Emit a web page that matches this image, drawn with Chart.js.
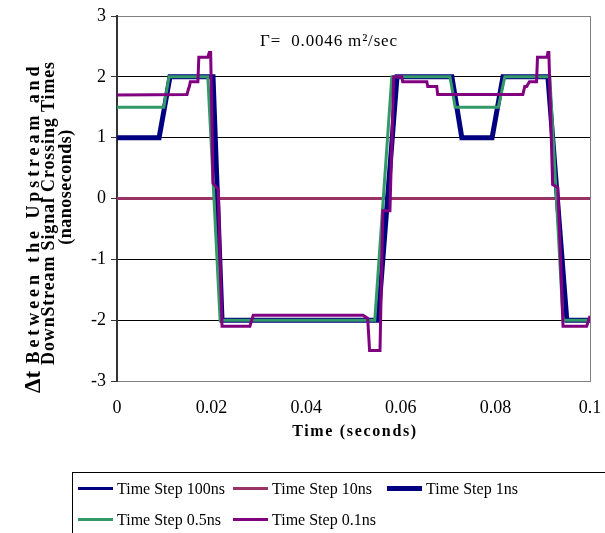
<!DOCTYPE html>
<html>
<head>
<meta charset="utf-8">
<script src="https://cdn.jsdelivr.net/npm/chart.js@4.4.0/dist/chart.umd.min.js"></script>
<style>
  body { margin: 0; overflow: hidden; background: #fff; }
  #wrap { position: relative; width: 605px; height: 533px; overflow: hidden; }
  #legend { position: absolute; left: 72px; top: 472px; width: 560px; height: 80px;
            border: 1px solid #000; box-sizing: border-box; font-family: 'Liberation Serif', serif; font-size: 16px; }
  .swatch { position: absolute; width: 35px; }
  .lbl { position: absolute; line-height: 18px; white-space: nowrap; }
</style>
</head>
<body>
<div id="wrap">
  <canvas id="chart" width="605" height="533"></canvas>
  <div id="legend"></div>
</div>
<script>
// series names, colours, widths
const names = ['Time Step 100ns', 'Time Step 10ns', 'Time Step 1ns', 'Time Step 0.5ns', 'Time Step 0.1ns'];
const colors = ['#000080', '#993366', '#000080', '#339966', '#800080'];
const widths = [3, 3, 5, 3, 3];

const xTickLabels = ['0', '0.02', '0.04', '0.06', '0.08', '0.1'];
const yTickLabels = ['-3', '-2', '-1', '0', '1', '2', '3'];

// time (s) and delta t (ns) for each series
const t100 = [0, 0.1];
const v100 = [0, 0];

const t10 = [0, 0.1];
const v10 = [0, 0];

const t1 = [0, 0.0089, 0.0112, 0.0203, 0.0222, 0.0552, 0.0592, 0.0708, 0.0729, 0.0793, 0.0816, 0.0911, 0.0951, 0.1];
const v1 = [1, 1, 2, 2, -2, -2, 2, 2, 1, 1, 2, 2, -2, -2];

const t05 = [0, 0.0099, 0.011, 0.0192, 0.0218, 0.0545, 0.0581, 0.0704, 0.0715, 0.0806, 0.082, 0.0915, 0.0943, 0.1];
const v05 = [1.5, 1.5, 2, 2, -2, -2, 2, 2, 1.5, 1.5, 2, 2, -2, -2];

const t01 = [0, 0.0148, 0.0151, 0.0153, 0.0155, 0.0171, 0.0173, 0.0192, 0.0195, 0.0198, 0.0203, 0.0214, 0.0222,
  0.0281, 0.0288, 0.052, 0.0526, 0.053, 0.0534, 0.0556, 0.0562, 0.0577, 0.0585, 0.0602, 0.0604, 0.0655, 0.0657,
  0.0676, 0.0678, 0.0858, 0.0862, 0.0866, 0.0872, 0.0887, 0.0889, 0.0909, 0.0911, 0.0913, 0.0921, 0.0932, 0.0943,
  0.0993, 0.1];
const v01 = [1.7, 1.71, 1.8, 1.84, 1.92, 1.92, 2.32, 2.32, 2.4, 2.4, 0.25, 0.15, -2.1,
  -2.1, -1.92, -1.92, -1.95, -1.97, -2.5, -2.5, -0.2, -0.2, 2.0, 2.0, 1.92, 1.92, 1.84,
  1.84, 1.71, 1.71, 1.84, 1.84, 1.92, 1.92, 2.32, 2.32, 2.4, 2.4, 0.23, 0.18, -2.1,
  -2.1, -1.93];

const series = [[t100, v100], [t10, v10], [t1, v1], [t05, v05], [t01, v01]];

const FONT = 'Liberation Serif';

function spacedText(ctx, text, target) {
  ctx.letterSpacing = '0px';
  const w = ctx.measureText(text).width;
  const sp = Math.max(0, (target - w) / Math.max(1, text.length - 1));
  ctx.letterSpacing = sp + 'px';
}

// titles and annotation drawn on the canvas
const textPlugin = {
  id: 'texts',
  afterDraw(chart) {
    const ctx = chart.ctx;
    ctx.save();
    ctx.fillStyle = '#000';
    ctx.textBaseline = 'middle';

    // x title
    ctx.font = 'bold 16px ' + FONT;
    ctx.textAlign = 'center';
    spacedText(ctx, 'Time (seconds)', 124);
    ctx.fillText('Time (seconds)', 355, 432);

    // gamma annotation
    ctx.font = '17px ' + FONT;
    ctx.textAlign = 'left';
    spacedText(ctx, '\u0393=  0.0046 m\u00B2/sec', 137);
    ctx.fillText('\u0393=  0.0046 m\u00B2/sec', 260, 42);

    // y title, rotated
    const lines = [
      { text: 'Between the Upstream and', x: 34, y: 213, w: 297 },
      { text: 'DownStream Signal Crossing Times', x: 49, y: 213, w: 303 },
      { text: '(nanoseconds)', x: 66, y: 187, w: 115 }
    ];
    lines.forEach(l => {
      ctx.save();
      ctx.translate(l.x, l.y);
      ctx.rotate(-Math.PI / 2);
      ctx.font = 'bold 18px ' + FONT;
      ctx.textAlign = 'center';
      spacedText(ctx, l.text, l.w);
      ctx.fillText(l.text, 0, 0);
      ctx.restore();
    });
    ctx.save();
    ctx.translate(34, 382);
    ctx.rotate(-Math.PI / 2);
    ctx.letterSpacing = '0px';
    ctx.font = 'bold 23px ' + FONT;
    ctx.textAlign = 'center';
    ctx.fillText('\u0394t', 0, 0);
    ctx.restore();

    ctx.restore();
  }
};

const datasets = series.map((s, i) => ({
  label: names[i],
  data: s[0].map((x, j) => ({ x: x, y: s[1][j] })),
  borderColor: colors[i],
  backgroundColor: colors[i],
  borderWidth: widths[i],
  pointRadius: 0,
  tension: 0,
  fill: false,
  order: 5 - i
}));

new Chart(document.getElementById('chart'), {
  type: 'line',
  data: { datasets: datasets },
  options: {
    responsive: false,
    animation: false,
    devicePixelRatio: 1,
    layout: { padding: { left: 0, right: 15, top: 16, bottom: 112 } },
    plugins: {
      legend: { display: false },
      tooltip: { enabled: false }
    },
    scales: {
      x: {
        type: 'linear',
        min: 0,
        max: 0.1,
        afterFit: s => { s.height = 40; s.paddingLeft = 0; s.paddingRight = 0; },
        ticks: {
          stepSize: 0.02,
          autoSkip: false,
          maxRotation: 0,
          padding: 16,
          color: '#000',
          font: { family: FONT, size: 18 },
          callback: (v, i) => xTickLabels[i]
        },
        grid: {
          drawTicks: false,
          color: c => (c.tick && c.tick.value > 0.099) ? '#808080' : 'rgba(0,0,0,0)'
        },
        border: { color: '#808080', width: 1 }
      },
      y: {
        min: -3,
        max: 3,
        afterFit: s => { s.width = 117; s.paddingTop = 0; s.paddingBottom = 0; },
        ticks: {
          stepSize: 1,
          padding: 5,
          color: '#000',
          font: { family: FONT, size: 18 },
          callback: (v, i) => yTickLabels[i]
        },
        grid: {
          tickLength: 6,
          tickColor: '#333',
          color: c => (c.tick && Math.abs(c.tick.value) === 3) ? '#808080' : '#000'
        },
        border: { color: '#333', width: 2 }
      }
    }
  },
  plugins: [textPlugin]
});

// legend in a box below the chart, laid out like a grid
const legend = document.getElementById('legend');
const colX = [5, 160, 314];
const rowY = [16, 47];
names.forEach((n, i) => {
  const col = i % 3, row = Math.floor(i / 3);
  const sw = document.createElement('div');
  sw.className = 'swatch';
  sw.style.left = colX[col] + 'px';
  sw.style.top = (rowY[row] - Math.round(widths[i] / 2)) + 'px';
  sw.style.height = widths[i] + 'px';
  sw.style.background = colors[i];
  legend.appendChild(sw);
  const lb = document.createElement('div');
  lb.className = 'lbl';
  lb.textContent = n;
  lb.style.left = (colX[col] + 39) + 'px';
  lb.style.top = (rowY[row] - 9) + 'px';
  legend.appendChild(lb);
});
</script>
</body>
</html>
